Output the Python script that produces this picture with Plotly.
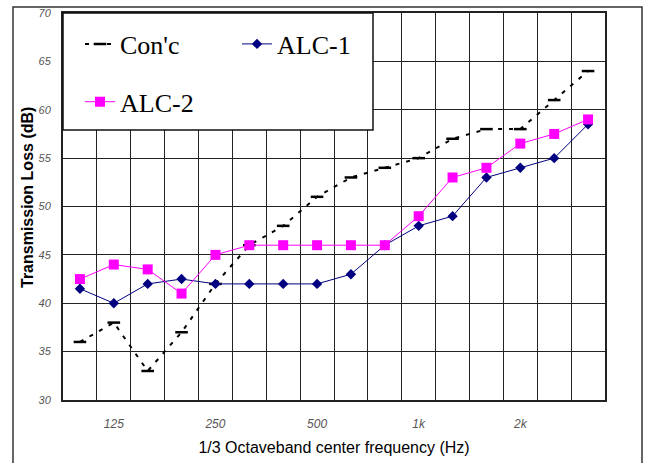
import plotly.graph_objects as go

freqs = ["100", "125", "160", "200", "250", "315", "400", "500", "630", "800",
         "1000", "1250", "1600", "2000", "2500", "3150"]
conc = [36, 38, 33, 37, 42, 46, 48, 51, 53, 54, 55, 57, 58, 58, 61, 64]
alc1 = [41.5, 40, 42, 42.5, 42, 42, 42, 42, 43, 46, 48, 49, 53, 54, 55, 58.5]
alc2 = [42.5, 44, 43.5, 41, 45, 46, 46, 46, 46, 46, 49, 53, 54, 56.5, 57.5, 59]
tick_freqs = ["125", "250", "500", "1000", "2000"]
tick_text = ["125", "250", "500", "1k", "2k"]

xpos = list(range(len(freqs)))
tickvals = [freqs.index(f) for f in tick_freqs]

W, H = 648, 463
L, R, T, B = 63, 43, 13, 63
pw, ph = W - L - R, H - T - B

def px(x):
    return (x - L) / pw

def py(y):
    return (H - B - y) / ph

fig = go.Figure()
fig.add_trace(go.Scatter(
    x=xpos, y=conc, name="Con'c", mode="lines+markers",
    line=dict(color="black", width=2, dash="4px,7px"),
    marker=dict(symbol="line-ew", size=9, line=dict(color="black", width=2.5)),
    legend="legend", legendgroup="g1"))
fig.add_trace(go.Scatter(
    x=xpos, y=alc1, name="ALC-1", mode="lines+markers",
    line=dict(color="#000080", width=1),
    marker=dict(symbol="diamond", size=8, color="#000080"),
    legend="legend2", legendgroup="g2"))
fig.add_trace(go.Scatter(
    x=xpos, y=alc2, name="ALC-2", mode="lines+markers",
    line=dict(color="#FF00FF", width=1),
    marker=dict(symbol="square", size=10, color="#FF00FF"),
    legend="legend", legendgroup="g3"))

legfont = dict(family="Liberation Serif, DejaVu Serif, serif", size=26, color="black")

fig.update_layout(
    width=W, height=H,
    margin=dict(l=L, r=R, t=T, b=B, autoexpand=False),
    paper_bgcolor="white", plot_bgcolor="white",
    showlegend=True,
    legend=dict(x=px(80), y=py(20.5), xanchor="left", yanchor="top",
                orientation="v", traceorder="grouped", tracegroupgap=21,
                bgcolor="rgba(0,0,0,0)", borderwidth=0, font=legfont),
    legend2=dict(x=px(237), y=py(20.5), xanchor="left", yanchor="top",
                 orientation="v", bgcolor="rgba(0,0,0,0)", borderwidth=0, font=legfont),
    xaxis=dict(
        automargin=False,
        range=[-0.5, len(freqs) - 0.5],
        tickmode="array", tickvals=tickvals, ticktext=tick_text,
        showgrid=False, zeroline=False, ticks="", ticklabelstandoff=12,
        tickfont=dict(family="Liberation Sans, Arial, sans-serif", size=12,
                      color="#555", style="italic"),
        minor=dict(tick0=-0.5, dtick=1, showgrid=True, gridcolor="#222", gridwidth=1, ticks=""),
        showline=True, linecolor="#222", linewidth=2, mirror=True,
        title=dict(text="1/3 Octaveband center frequency (Hz)", standoff=11,
                   font=dict(family="Liberation Sans, Arial, sans-serif", size=16, color="black")),
    ),
    yaxis=dict(
        automargin=False,
        range=[30, 70], dtick=5, tick0=30,
        showgrid=True, gridcolor="#222", gridwidth=1, zeroline=False, ticks="",
        ticklabelstandoff=8,
        tickfont=dict(family="Liberation Sans, Arial, sans-serif", size=11,
                      color="#555", style="italic"),
        showline=True, linecolor="#222", linewidth=2, mirror=True,
    ),
    annotations=[dict(
        text="<b>Transmission Loss (dB)</b>", textangle=-90,
        xref="paper", yref="paper", x=px(27), y=py(198),
        xanchor="center", yanchor="middle", showarrow=False,
        font=dict(family="Liberation Sans, Arial, sans-serif", size=16, color="black"))],
    shapes=[
        dict(type="rect", xref="paper", yref="paper", layer="above",
             x0=px(63), x1=px(373), y0=py(130), y1=py(13),
             fillcolor="white", line=dict(color="#111", width=1.5)),
        dict(type="rect", xref="paper", yref="paper", layer="below",
             x0=px(13), x1=px(642), y0=py(480), y1=py(7),
             line=dict(color="#333", width=1.5)),
    ],
)

fig.write_html("out.html")
